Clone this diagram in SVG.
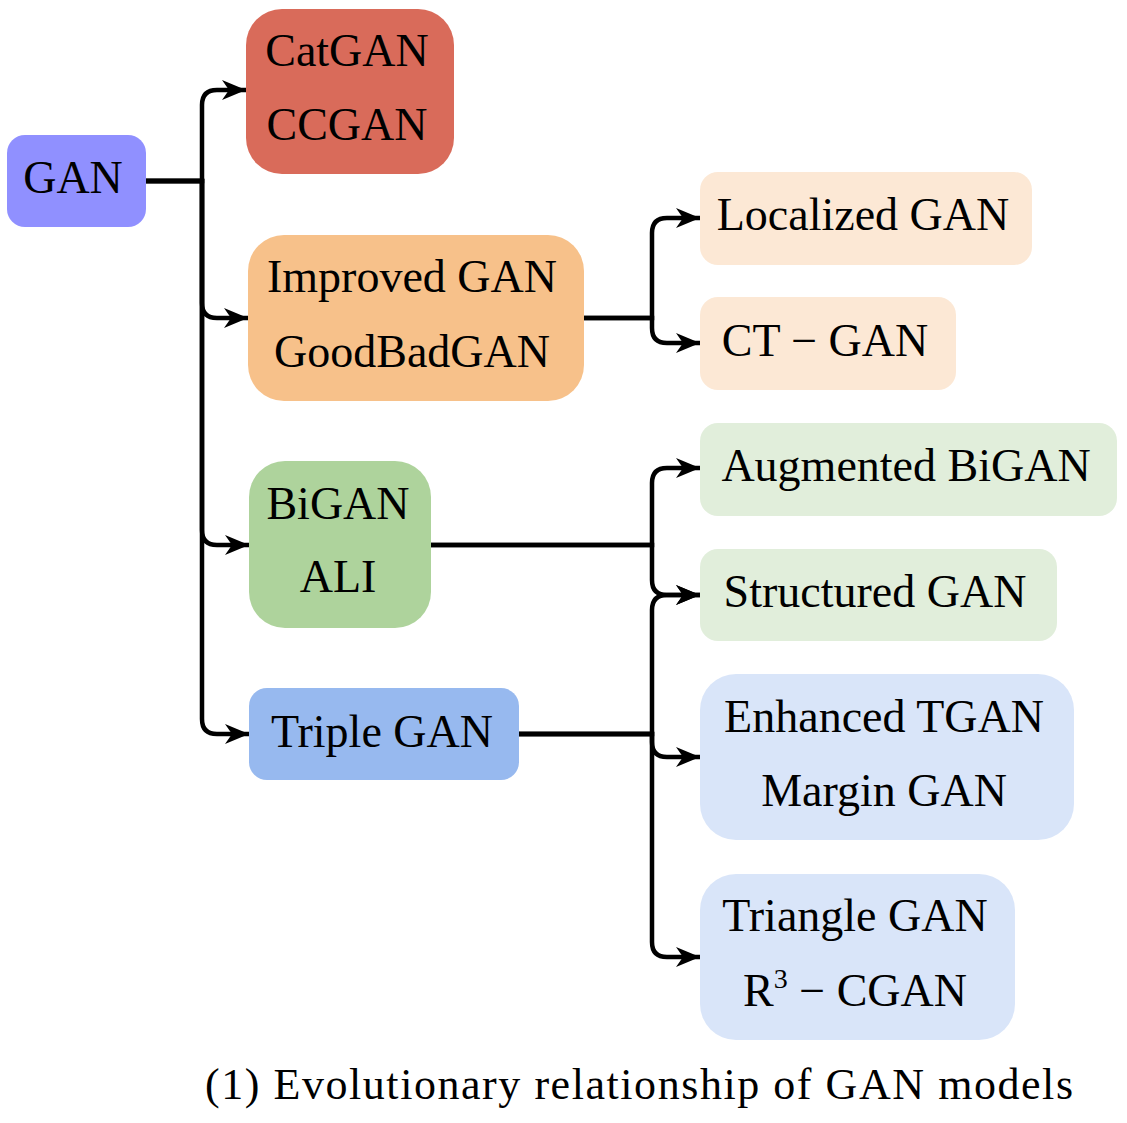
<svg xmlns="http://www.w3.org/2000/svg" width="1127" height="1123" viewBox="0 0 1127 1123">
<style>
text{font-family:"Liberation Serif","DejaVu Serif",serif;font-size:46px;fill:#000;text-anchor:middle}
.c{fill:none;stroke:#000;stroke-width:4.5}
.cap{font-size:44px;text-anchor:start}
</style>
<defs>
<marker id="ah" viewBox="-26 -11 28 22" refX="0" refY="0" markerWidth="28" markerHeight="22" markerUnits="userSpaceOnUse" orient="auto">
<path d="M0,0 L-24,-10 L-17,0 L-24,10 Z" fill="#000"/>
</marker>
</defs>
<rect width="1127" height="1123" fill="#fff"/>
<g id="connectors">
<path class="c" marker-end="url(#ah)" d="M146,181 H202 V105 Q202,90 217,90 H246"/>
<path class="c" marker-end="url(#ah)" d="M146,181 H202 V303 Q202,318 217,318 H248"/>
<path class="c" marker-end="url(#ah)" d="M146,181 H202 V530 Q202,545 217,545 H249"/>
<path class="c" marker-end="url(#ah)" d="M146,181 H202 V719 Q202,734 217,734 H249"/>
<path class="c" marker-end="url(#ah)" d="M584,318 H652 V233 Q652,218 667,218 H700"/>
<path class="c" marker-end="url(#ah)" d="M584,318 H652 V328 Q652,343 667,343 H700"/>
<path class="c" marker-end="url(#ah)" d="M431,545 H652 V483 Q652,468 667,468 H700"/>
<path class="c" marker-end="url(#ah)" d="M431,545 H652 V580 Q652,595 667,595 H700"/>
<path class="c" marker-end="url(#ah)" d="M519,734 H652 V610 Q652,595 667,595 H700"/>
<path class="c" marker-end="url(#ah)" d="M519,734 H652 V742 Q652,757 667,757 H700"/>
<path class="c" marker-end="url(#ah)" d="M519,734 H652 V942 Q652,957 667,957 H700"/>
</g>
<g id="gan"><rect x="7" y="135" width="139" height="92" rx="18" fill="#9090ff"/><text x="73" y="193">GAN</text></g>
<g id="catgan"><rect x="246" y="9" width="208" height="165" rx="36" fill="#d96b5a"/><text x="347" y="66">CatGAN</text><text x="347" y="140">CCGAN</text></g>
<g id="improved"><rect x="248" y="235" width="336" height="166" rx="36" fill="#f7c18a"/><text x="412" y="292">Improved GAN</text><text x="412" y="367">GoodBadGAN</text></g>
<g id="bigan"><rect x="249" y="461" width="182" height="167" rx="36" fill="#aed39c"/><text x="338" y="519">BiGAN</text><text x="338" y="592">ALI</text></g>
<g id="triple"><rect x="249" y="688" width="270" height="92" rx="18" fill="#97b9ef"/><text x="382" y="747">Triple GAN</text></g>
<g id="localized"><rect x="700" y="172" width="332" height="93" rx="18" fill="#fce8d5"/><text x="863" y="230">Localized GAN</text></g>
<g id="ctgan"><rect x="700" y="297" width="256" height="93" rx="18" fill="#fce8d5"/><text x="825" y="356">CT − GAN</text></g>
<g id="augmented"><rect x="700" y="423" width="417" height="93" rx="18" fill="#e1eedb"/><text x="906" y="481">Augmented BiGAN</text></g>
<g id="structured"><rect x="700" y="549" width="357" height="92" rx="18" fill="#e1eedb"/><text x="875" y="607">Structured GAN</text></g>
<g id="enhanced"><rect x="700" y="674" width="374" height="166" rx="36" fill="#d9e5f9"/><text x="884" y="732">Enhanced TGAN</text><text x="884" y="806">Margin GAN</text></g>
<g id="triangle"><rect x="700" y="874" width="315" height="166" rx="36" fill="#d9e5f9"/><text x="855" y="931">Triangle GAN</text><text x="855" y="1006">R<tspan dy="-18" font-size="28">3</tspan><tspan dy="18"> − CGAN</tspan></text></g>
<text class="cap" x="205" y="1099" textLength="868" lengthAdjust="spacing">(1) Evolutionary relationship of GAN models</text>
</svg>
